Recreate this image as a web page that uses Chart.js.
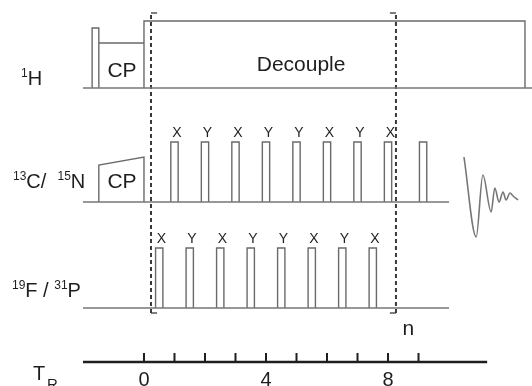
<!DOCTYPE html>
<html><head><meta charset="utf-8">
<script src="https://cdn.jsdelivr.net/npm/chart.js@4/dist/chart.umd.min.js"></script>
<style>html,body{margin:0;padding:0;background:#fff;} #wrap{width:532px;height:386px;position:relative;}</style>
</head><body><div id="wrap"><canvas id="c" width="532" height="386"></canvas></div>
<script>
// ---------- data (time in rotor periods T_R, amplitude in arbitrary units) ----------
const trTicks = [0, 1, 2, 3, 4, 5, 6, 7, 8, 9];
const trTickLabels = ['0', '', '', '', '4', '', '', '', '8', ''];
const protonEvents = [-1.70, -1.48, 0, 12.49];          // 90° pulse start, CP start, decouple start, decouple end
const protonAmps = [6.0, 4.5, 6.7];                      // 90° pulse, CP, decoupling
const carbonCpAmps = [3.7, 4.5];                         // ramped CP start / end
const carbonPulses = [1, 2, 3, 4, 5, 6, 7, 8];
const carbonPhases = ['X', 'Y', 'X', 'Y', 'Y', 'X', 'Y', 'X'];
const fluorinePulses = [0.5, 1.5, 2.5, 3.5, 4.5, 5.5, 6.5, 7.5];
const fluorinePhases = ['X', 'Y', 'X', 'Y', 'Y', 'X', 'Y', 'X'];
const detectPulse = [9.15];
const pulseAmp = 6.0;
const loopBounds = [0.23, 8.26];
const fidTime = [10.49, 10.89, 11.11, 11.38, 11.5, 11.64, 11.77, 11.87, 12.0, 12.1, 12.26];
const fidSignal = [4.5, -3.5, 2.7, -1.0, 1.4, 0.0, 1.0, 0.2, 0.9, 0.6, 0.2];

// ---------- layout ----------
const X_MIN = -4.72, X_MAX = 12.72, Y_MIN = 0, Y_MAX = 36.2;
const BASE = { H: 27.4, C: 16.0, F: 5.4 };
const LINE_START = -2.0, CF_END = 10.0, AXIS_END = 11.25;
const PW = 0.24;       // pulse width
const GAP = (x) => ({ x: x, y: null });

function pulses(times, base, amp) {
  const pts = [];
  times.forEach(t => {
    pts.push({ x: t - PW / 2, y: base }, { x: t - PW / 2, y: base + amp },
             { x: t + PW / 2, y: base + amp }, { x: t + PW / 2, y: base }, GAP(t + PW / 2));
  });
  return pts;
}
const baselines = [
  { x: LINE_START, y: BASE.H }, { x: X_MAX, y: BASE.H }, GAP(X_MAX),
  { x: LINE_START, y: BASE.C }, { x: CF_END, y: BASE.C }, GAP(CF_END),
  { x: LINE_START, y: BASE.F }, { x: CF_END, y: BASE.F }
];
const [p0, p1, p2, p3] = protonEvents;
const protonShapes = [
  { x: p0, y: BASE.H }, { x: p0, y: BASE.H + protonAmps[0] }, { x: p1, y: BASE.H + protonAmps[0] }, { x: p1, y: BASE.H }, GAP(p1),
  { x: p1, y: BASE.H + protonAmps[1] }, { x: p2, y: BASE.H + protonAmps[1] }, GAP(p2),
  { x: p2, y: BASE.H }, { x: p2, y: BASE.H + protonAmps[2] }, { x: p3, y: BASE.H + protonAmps[2] }, { x: p3, y: BASE.H }
];
const carbonShapes = [
  { x: p1, y: BASE.C }, { x: p1, y: BASE.C + carbonCpAmps[0] }, { x: p2, y: BASE.C + carbonCpAmps[1] }, { x: p2, y: BASE.C }, GAP(p2)
].concat(pulses(carbonPulses.concat(detectPulse), BASE.C, pulseAmp));
const fluorineShapes = pulses(fluorinePulses, BASE.F, pulseAmp);
const LOOP_TOP = 34.9, LOOP_BOT = 4.9, HOOK = 0.2;
const dashed = [];
loopBounds.forEach(b => dashed.push({ x: b, y: LOOP_BOT }, { x: b, y: LOOP_TOP }, GAP(b)));
const hooks = [
  { x: loopBounds[0], y: LOOP_TOP }, { x: loopBounds[0] + HOOK, y: LOOP_TOP }, GAP(0),
  { x: loopBounds[1] - HOOK, y: LOOP_TOP }, { x: loopBounds[1], y: LOOP_TOP }, GAP(0),
  { x: loopBounds[0], y: LOOP_BOT }, { x: loopBounds[0] + HOOK, y: LOOP_BOT }, GAP(0),
  { x: loopBounds[1] - HOOK, y: LOOP_BOT }, { x: loopBounds[1], y: LOOP_BOT }
];
const axisLine = [{ x: LINE_START, y: 0 }, { x: AXIS_END, y: 0 }];
const tickMarks = [];
trTicks.forEach(t => tickMarks.push({ x: t, y: 0 }, { x: t, y: 0.9 }, GAP(t)));
const fid = fidTime.map((t, i) => ({ x: t, y: BASE.C + fidSignal[i] }));

const GREY = '#6a6a6a';
function ds(data, extra) {
  return Object.assign({ data: data, borderColor: GREY, borderWidth: 1.4, pointRadius: 0,
    fill: false, tension: 0, spanGaps: false, clip: false }, extra || {});
}

// ---------- text plugin ----------
const FONT = '"Liberation Sans", Arial, Helvetica, sans-serif';
function rich(ctx, parts, x, y) {
  let cx = x;
  parts.forEach(p => {
    ctx.font = (p.sup ? '12px ' : '20px ') + FONT;
    ctx.fillText(p.t, cx, y + (p.sup ? -8 : 0) + (p.sub ? 7 : 0));
    cx += ctx.measureText(p.t).width;
  });
}
const textPlugin = {
  id: 'texts',
  afterDatasetsDraw(chart) {
    const ctx = chart.ctx, xs = chart.scales.x, ys = chart.scales.y;
    const px = v => xs.getPixelForValue(v), py = v => ys.getPixelForValue(v);
    ctx.save();
    ctx.fillStyle = '#1e1e1e';
    ctx.textBaseline = 'alphabetic';
    // phase labels
    ctx.textAlign = 'center';
    ctx.font = '14px ' + FONT;
    carbonPulses.forEach((t, i) => ctx.fillText(carbonPhases[i], px(t + 0.08), py(BASE.C + pulseAmp + 0.5)));
    fluorinePulses.forEach((t, i) => ctx.fillText(fluorinePhases[i], px(t + 0.07), py(BASE.F + pulseAmp + 0.5)));
    // block labels
    ctx.font = '21px ' + FONT;
    ctx.fillText('CP', px((p1 + p2) / 2 + 0.02), py(BASE.H + 1.1));
    ctx.fillText('CP', px((p1 + p2) / 2 + 0.02), py(BASE.C + 1.4));
    ctx.fillText('Decouple', px(5.15), py(BASE.H + 1.7));
    ctx.fillText('n', px(8.67), py(2.7));
    // channel labels
    ctx.textAlign = 'left';
    rich(ctx, [{ t: '1', sup: true }, { t: 'H' }], 21, py(BASE.H + 0.3));
    rich(ctx, [{ t: '13', sup: true }, { t: 'C/  ' }, { t: '15', sup: true }, { t: 'N' }], 13, py(BASE.C + 1.4));
    rich(ctx, [{ t: '19', sup: true }, { t: 'F / ' }, { t: '31', sup: true }, { t: 'P' }], 12, py(BASE.F + 1.1));
    ctx.font = '20px ' + FONT;
    ctx.fillText('T', 33, 380);
    ctx.font = '15px ' + FONT;
    ctx.fillText('R', 47, 389);
    ctx.restore();
  }
};

new Chart(document.getElementById('c'), {
  type: 'line',
  data: {
    datasets: [
      ds(baselines, { borderColor: '#777' }),
      ds(protonShapes),
      ds(carbonShapes),
      ds(fluorineShapes),
      ds(dashed, { borderColor: '#3a3a3a', borderWidth: 2, borderDash: [4, 3] }),
      ds(hooks, { borderColor: '#555', borderWidth: 1.4 }),
      ds(axisLine, { borderColor: '#1e1e1e', borderWidth: 2.6 }),
      ds(tickMarks, { borderColor: '#1e1e1e', borderWidth: 2 }),
      ds(fid, { borderColor: '#777', borderWidth: 1.6, cubicInterpolationMode: 'monotone' })
    ]
  },
  options: {
    responsive: false,
    animation: false,
    layout: { padding: 0 },
    plugins: { legend: { display: false }, tooltip: { enabled: false } },
    scales: {
      x: {
        type: 'linear', min: X_MIN, max: X_MAX,
        grid: { display: false, drawTicks: false },
        border: { display: false },
        afterFit: s => { s.height = 24; },
        afterBuildTicks: s => { s.ticks = trTicks.map(v => ({ value: v })); },
        ticks: {
          autoSkip: false, maxRotation: 0, padding: 6, color: '#1e1e1e',
          font: { family: FONT, size: 20 },
          callback: v => { const i = trTicks.indexOf(v); return i >= 0 ? trTickLabels[i] : ''; }
        }
      },
      y: { type: 'linear', min: Y_MIN, max: Y_MAX, display: false }
    }
  },
  plugins: [textPlugin]
});
</script></body></html>
